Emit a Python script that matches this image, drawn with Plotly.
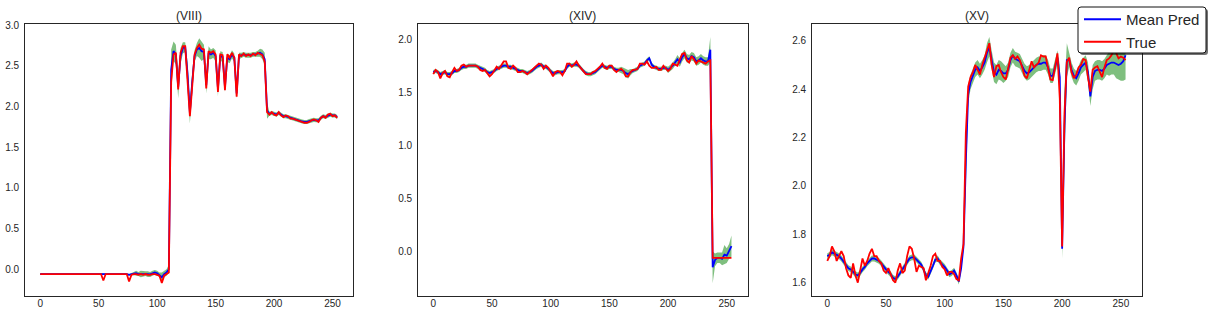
import plotly.graph_objects as go

W, H = 1212, 316

# sample positions (every second step of the 0..255 series)
x_idx = list(range(0, 256, 2))

# ---------------- (VIII) ----------------
true_viii = (
    [-0.06] * 10
    + [-0.06] * 10
    + [-0.06, -0.06, -0.06, -0.06, -0.06, -0.06, -0.06, -0.14, -0.06, -0.06]
    + [-0.06, -0.06, -0.06, -0.06, -0.06, -0.06, -0.06, -0.06, -0.15, -0.07]
    + [-0.06, -0.06, -0.07, -0.06, -0.07, -0.06, -0.07, -0.07, -0.06, -0.06]
    + [-0.07, -0.08, -0.17, -0.08, -0.06, -0.04, 2.30, 2.64, 2.66, 2.21]
    + [2.66, 2.74, 2.74, 2.35, 1.88, 2.25, 2.64, 2.72, 2.76, 2.71]
    + [2.70, 2.22, 2.68, 2.66, 2.68, 2.64, 2.18, 2.64, 2.63, 2.20]
    + [2.64, 2.60, 2.66, 2.60, 2.12, 2.64, 2.62, 2.65, 2.62, 2.64]
    + [2.62, 2.65, 2.63, 2.66, 2.64, 2.63, 2.55, 1.93, 1.90, 1.93]
    + [1.90, 1.89, 1.93, 1.89, 1.87, 1.89, 1.88, 1.85, 1.85, 1.84]
    + [1.83, 1.82, 1.81, 1.80, 1.80, 1.81, 1.83, 1.84, 1.83, 1.81]
    + [1.86, 1.88, 1.86, 1.90, 1.91, 1.88, 1.89, 1.86]
)
pred_viii = (
    [-0.06] * 9 + [-0.055]
    + [-0.055] * 10
    + [-0.055, -0.06, -0.06, -0.06, -0.06, -0.06, -0.06, -0.06, -0.06, -0.06]
    + [-0.06] * 8 + [-0.07, -0.06]
    + [-0.055, -0.05, -0.06, -0.06, -0.06, -0.055, -0.06, -0.065, -0.05, -0.04]
    + [-0.05, -0.07, -0.10, -0.06, -0.04, 0.0, 2.45, 2.68, 2.64, 2.24]
    + [2.62, 2.72, 2.73, 2.40, 1.92, 2.30, 2.62, 2.70, 2.72, 2.68]
    + [2.67, 2.26, 2.66, 2.64, 2.66, 2.62, 2.22, 2.62, 2.61, 2.24]
    + [2.60, 2.58, 2.64, 2.60, 2.16, 2.62, 2.63, 2.64, 2.63, 2.63]
    + [2.63, 2.64, 2.64, 2.65, 2.66, 2.64, 2.58, 1.95, 1.91, 1.92]
    + [1.91, 1.90, 1.92, 1.90, 1.88, 1.88, 1.87, 1.86, 1.85, 1.84]
    + [1.83, 1.82, 1.815, 1.81, 1.81, 1.82, 1.83, 1.835, 1.83, 1.83]
    + [1.86, 1.88, 1.87, 1.89, 1.90, 1.89, 1.89, 1.87]
)
spread_viii = (
    [0.01] * 40
    + [0.02, 0.03, 0.025, 0.04, 0.035, 0.03, 0.035, 0.03, 0.03, 0.03]
    + [0.03, 0.03, 0.06, 0.04, 0.04, 0.05, 0.25, 0.12, 0.12, 0.14]
    + [0.10, 0.07, 0.06, 0.15, 0.13, 0.12, 0.07, 0.08, 0.12, 0.12]
    + [0.09, 0.10, 0.08, 0.06, 0.06, 0.07, 0.09, 0.06, 0.06, 0.06]
    + [0.05, 0.05, 0.05, 0.05, 0.06, 0.04, 0.03, 0.03, 0.03, 0.03]
    + [0.03, 0.03, 0.03, 0.035, 0.05, 0.06, 0.08, 0.10, 0.025, 0.025]
    + [0.025] * 20
    + [0.025] * 8
)

# ---------------- (XIV) ----------------
true_xiv = (
    [1.67, 1.71, 1.69, 1.63, 1.68, 1.70, 1.65, 1.64, 1.69, 1.73]
    + [1.70, 1.71, 1.75, 1.76, 1.74, 1.75, 1.75, 1.75, 1.75, 1.74]
    + [1.71, 1.70, 1.71, 1.68, 1.65, 1.67, 1.70, 1.74, 1.72, 1.76]
    + [1.79, 1.79, 1.73, 1.72, 1.75, 1.73, 1.69, 1.69, 1.70, 1.69]
    + [1.67, 1.69, 1.71, 1.73, 1.75, 1.77, 1.76, 1.72, 1.75, 1.73]
    + [1.69, 1.65, 1.69, 1.70, 1.69, 1.66, 1.70, 1.77, 1.77, 1.74]
    + [1.76, 1.79, 1.75, 1.72, 1.69, 1.67, 1.67, 1.67, 1.69, 1.70]
    + [1.72, 1.74, 1.77, 1.73, 1.72, 1.75, 1.75, 1.71, 1.69, 1.71]
    + [1.72, 1.70, 1.65, 1.65, 1.69, 1.71, 1.71, 1.72, 1.77, 1.77]
    + [1.76, 1.79, 1.75, 1.73, 1.73, 1.74, 1.71, 1.71, 1.75, 1.72]
    + [1.70, 1.72, 1.77, 1.76, 1.75, 1.81, 1.86, 1.87, 1.80, 1.78]
    + [1.84, 1.81, 1.77, 1.80, 1.79, 1.78, 1.77, 1.79, 1.80, -0.06]
    + [-0.06] * 8
)
pred_xiv = (
    [1.69, 1.70, 1.69, 1.67, 1.68, 1.69, 1.67, 1.67, 1.68, 1.70]
    + [1.70, 1.71, 1.73, 1.74, 1.74, 1.75, 1.75, 1.75, 1.75, 1.74]
    + [1.73, 1.72, 1.71, 1.69, 1.68, 1.69, 1.70, 1.72, 1.73, 1.74]
    + [1.75, 1.75, 1.74, 1.74, 1.73, 1.72, 1.71, 1.70, 1.70, 1.69]
    + [1.68, 1.69, 1.70, 1.72, 1.74, 1.75, 1.76, 1.74, 1.74, 1.72]
    + [1.70, 1.68, 1.68, 1.69, 1.69, 1.69, 1.70, 1.74, 1.76, 1.75]
    + [1.76, 1.76, 1.75, 1.72, 1.70, 1.68, 1.67, 1.67, 1.68, 1.69]
    + [1.71, 1.73, 1.75, 1.74, 1.73, 1.74, 1.74, 1.72, 1.71, 1.71]
    + [1.71, 1.70, 1.68, 1.67, 1.69, 1.70, 1.71, 1.72, 1.75, 1.76]
    + [1.77, 1.80, 1.82, 1.76, 1.74, 1.73, 1.72, 1.72, 1.73, 1.73]
    + [1.71, 1.73, 1.75, 1.78, 1.81, 1.78, 1.83, 1.86, 1.82, 1.81]
    + [1.84, 1.83, 1.79, 1.80, 1.82, 1.80, 1.79, 1.79, 1.90, -0.15]
    + [-0.08, -0.06, -0.06, -0.07, -0.03, -0.04, 0.00, 0.05]
)
spread_xiv = (
    [0.02] * 80
    + [0.03, 0.03, 0.04, 0.04, 0.03, 0.02, 0.02, 0.02, 0.02, 0.02]
    + [0.02] * 10
    + [0.03, 0.03, 0.03, 0.03, 0.04, 0.04, 0.04, 0.04, 0.04, 0.04]
    + [0.04, 0.04, 0.04, 0.04, 0.04, 0.04, 0.04, 0.04, 0.12, 0.15]
    + [0.06, 0.05, 0.05, 0.06, 0.09, 0.07, 0.07, 0.10]
)

# ---------------- (XV) ----------------
true_xv = (
    [1.69, 1.71, 1.75, 1.73, 1.69, 1.71, 1.73, 1.71, 1.66, 1.63]
    + [1.62, 1.68, 1.63, 1.60, 1.65, 1.70, 1.67, 1.69, 1.72, 1.74]
    + [1.71, 1.71, 1.69, 1.68, 1.65, 1.64, 1.66, 1.63, 1.61, 1.60]
    + [1.65, 1.68, 1.64, 1.65, 1.71, 1.75, 1.74, 1.70, 1.645, 1.67]
    + [1.665, 1.66, 1.61, 1.64, 1.67, 1.71, 1.72, 1.69, 1.69, 1.665]
    + [1.655, 1.63, 1.645, 1.645, 1.635, 1.615, 1.61, 1.70, 1.76, 2.22]
    + [2.41, 2.45, 2.47, 2.50, 2.48, 2.46, 2.50, 2.53, 2.56, 2.59]
    + [2.50, 2.45, 2.495, 2.50, 2.47, 2.45, 2.44, 2.49, 2.53, 2.54]
    + [2.525, 2.535, 2.52, 2.49, 2.455, 2.445, 2.48, 2.515, 2.49, 2.50]
    + [2.51, 2.54, 2.535, 2.535, 2.49, 2.44, 2.437, 2.50, 2.548, 2.36]
    + [1.75, 2.30, 2.513, 2.53, 2.47, 2.445, 2.46, 2.49, 2.50, 2.525]
    + [2.52, 2.45, 2.39, 2.48, 2.49, 2.495, 2.475, 2.45, 2.49, 2.52]
    + [2.527, 2.54, 2.56, 2.55, 2.527, 2.535, 2.53, 2.52]
)
pred_xv = (
    [1.71, 1.715, 1.725, 1.72, 1.715, 1.71, 1.70, 1.685, 1.67, 1.66]
    + [1.655, 1.645, 1.635, 1.63, 1.64, 1.655, 1.665, 1.68, 1.69, 1.70]
    + [1.70, 1.695, 1.69, 1.68, 1.665, 1.655, 1.645, 1.635, 1.62, 1.615]
    + [1.625, 1.64, 1.65, 1.67, 1.685, 1.70, 1.705, 1.705, 1.695, 1.685]
    + [1.675, 1.655, 1.63, 1.625, 1.645, 1.67, 1.695, 1.70, 1.685, 1.675]
    + [1.665, 1.65, 1.635, 1.64, 1.65, 1.63, 1.605, 1.66, 1.75, 2.10]
    + [2.38, 2.43, 2.46, 2.48, 2.49, 2.475, 2.49, 2.51, 2.55, 2.575]
    + [2.52, 2.47, 2.46, 2.48, 2.475, 2.465, 2.465, 2.48, 2.52, 2.54]
    + [2.525, 2.52, 2.515, 2.495, 2.475, 2.465, 2.47, 2.48, 2.49, 2.50]
    + [2.505, 2.505, 2.51, 2.51, 2.49, 2.455, 2.455, 2.49, 2.53, 2.45]
    + [1.74, 2.25, 2.52, 2.52, 2.48, 2.455, 2.445, 2.465, 2.49, 2.50]
    + [2.51, 2.47, 2.37, 2.45, 2.475, 2.48, 2.48, 2.475, 2.485, 2.50]
    + [2.505, 2.51, 2.51, 2.505, 2.50, 2.505, 2.515, 2.54]
)
spread_xv = (
    [0.012] * 50
    + [0.012] * 9 + [0.10]
    + [0.04, 0.03, 0.03, 0.03, 0.03, 0.03, 0.03, 0.03, 0.04, 0.04]
    + [0.04, 0.04, 0.04, 0.04, 0.04, 0.04, 0.03, 0.03, 0.03, 0.03]
    + [0.03] * 10
    + [0.03] * 9 + [0.05]
    + [0.04, 0.15, 0.07, 0.03, 0.03, 0.03, 0.03, 0.03, 0.03, 0.03]
    + [0.03, 0.04, 0.04, 0.05, 0.04, 0.04, 0.04, 0.04, 0.04, 0.04]
    + [0.05, 0.05, 0.05, 0.06, 0.06, 0.07, 0.08, 0.10]
)

titles = ["(VIII)", "(XIV)", "(XV)"]
x_ticks = [0, 50, 100, 150, 200, 250]
y_ticks = [
    [0.0, 0.5, 1.0, 1.5, 2.0, 2.5, 3.0],
    [0.0, 0.5, 1.0, 1.5, 2.0],
    [1.6, 1.8, 2.0, 2.2, 2.4, 2.6],
]
y_ranges = [[-0.33, 3.01], [-0.42, 2.14], [1.545, 2.668]]
x_range = [-12.75, 267.75]
legend_names = ["Mean Pred", "True"]

panels = [
    (true_viii, pred_viii, spread_viii),
    (true_xiv, pred_xiv, spread_xiv),
    (true_xv, pred_xv, spread_xv),
]
for t, p, s in panels:
    assert len(t) == len(p) == len(s) == len(x_idx), (len(t), len(p), len(s))

# layout geometry in pixels
ax_px = [(25.3, 353.3), (418.3, 747.6), (812.3, 1141.7)]
top_px, bot_px = 24.3, 296.0

INK = "#262626"
FONT = "Liberation Sans, Arial, sans-serif"

fig = go.Figure()
layout = dict(
    width=W, height=H,
    margin=dict(l=0, r=0, t=0, b=0, autoexpand=False),
    paper_bgcolor="white", plot_bgcolor="white",
    font=dict(family=FONT, color=INK, size=10),
    showlegend=True,
)

annotations = []
for k, (t, p, s) in enumerate(panels):
    sfx = "" if k == 0 else str(k + 1)
    xa, ya = "x" + sfx, "y" + sfx
    lo = [m - d for m, d in zip(p, s)]
    hi = [m + d for m, d in zip(p, s)]
    fig.add_trace(go.Scatter(x=x_idx, y=lo, mode="lines", line=dict(width=0, color="rgba(0,128,0,0.5)"),
                             showlegend=False, hoverinfo="skip", xaxis=xa, yaxis=ya))
    fig.add_trace(go.Scatter(x=x_idx, y=hi, mode="lines", line=dict(width=0, color="rgba(0,128,0,0.5)"),
                             fill="tonexty", fillcolor="rgba(0,128,0,0.5)",
                             showlegend=False, hoverinfo="skip", xaxis=xa, yaxis=ya))
    fig.add_trace(go.Scatter(x=x_idx, y=p, mode="lines", line=dict(color="#0000ff", width=1.8),
                             name=legend_names[0], legendgroup="pred", showlegend=(k == 0),
                             xaxis=xa, yaxis=ya))
    fig.add_trace(go.Scatter(x=x_idx, y=t, mode="lines", line=dict(color="#ff0000", width=1.8),
                             name=legend_names[1], legendgroup="true", showlegend=(k == 0),
                             xaxis=xa, yaxis=ya))
    x0, x1 = ax_px[k]
    common = dict(showgrid=False, zeroline=False, showline=True, mirror=True,
                  linecolor=INK, linewidth=1.25, ticks="", ticklen=0,
                  tickfont=dict(size=10, color=INK, family=FONT))
    layout["xaxis" + sfx] = dict(common, domain=[x0 / W, x1 / W], range=x_range,
                                 tickvals=x_ticks, anchor=ya, ticklabelstandoff=-2)
    layout["yaxis" + sfx] = dict(common, domain=[1 - bot_px / H, 1 - top_px / H], range=y_ranges[k],
                                 tickvals=y_ticks[k], tickformat=".1f", anchor=xa, ticklabelstandoff=3)
    annotations.append(dict(text=titles[k], x=(x0 + x1) / 2 / W, y=1 - 15.7 / H,
                            xref="paper", yref="paper", showarrow=False,
                            xanchor="center", yanchor="middle",
                            font=dict(size=12, color=INK, family=FONT)))

layout["annotations"] = annotations

# legend frame (rounded, with shadow)
def rounded_rect(x0, y0, x1, y1, r):
    def P(px, py):
        return f"{px / W:.6f},{1 - py / H:.6f}"
    return (f"M{P(x0 + r, y0)} L{P(x1 - r, y0)} Q{P(x1, y0)} {P(x1, y0 + r)} "
            f"L{P(x1, y1 - r)} Q{P(x1, y1)} {P(x1 - r, y1)} L{P(x0 + r, y1)} "
            f"Q{P(x0, y1)} {P(x0, y1 - r)} L{P(x0, y0 + r)} Q{P(x0, y0)} {P(x0 + r, y0)} Z")

lx0, ly0, lx1, ly1 = 1078, 7, 1206, 53
layout["shapes"] = [
    dict(type="path", path=rounded_rect(lx0 + 2, ly0 + 2, lx1 + 2, ly1 + 2, 3), xref="paper", yref="paper",
         fillcolor="rgba(0,0,0,0.55)", line=dict(width=0), layer="above"),
    dict(type="path", path=rounded_rect(lx0, ly0, lx1, ly1, 3), xref="paper", yref="paper",
         fillcolor="white", line=dict(color="#111111", width=1), layer="above"),
]
layout["legend"] = dict(x=(lx0 + 1) / W, y=1 - (ly0 - 4) / H, xanchor="left", yanchor="top",
                        bgcolor="rgba(0,0,0,0)", borderwidth=0,
                        font=dict(size=15, color=INK, family=FONT),
                        itemwidth=37, tracegroupgap=0)

fig.update_layout(**layout)
fig.write_html("out.html", config={"displayModeBar": False},
               post_script="document.body.style.margin='0px';document.body.style.overflow='hidden';")
